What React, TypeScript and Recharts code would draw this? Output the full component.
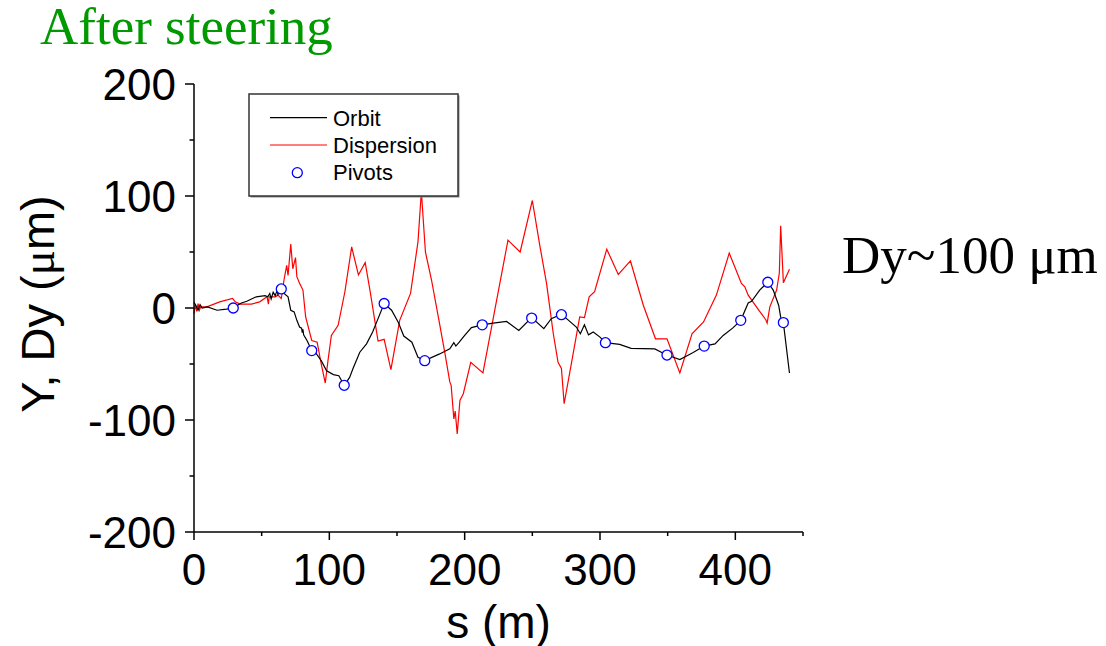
import { ComposedChart, Line, Scatter, XAxis, YAxis } from "recharts";

// s (m), value (µm)
const ORBIT: [number, number][] = [
  [0, 5], [1.5, 2], [3, -2], [4.5, 3], [6, 0], [10, 1], [17, -2], [24, -1], [29, 0],
  [35, 4.5], [39, 6], [46, 10], [52.5, 11], [54.5, 10], [56, 13], [57, 8], [58.5, 14],
  [60, 11], [61.5, 16], [62, 12], [64.5, 17], [66.5, 13], [69.5, 10], [71.5, -2],
  [74, -3.5], [76, -11], [78, -17], [79.5, -18], [80, -22], [80.5, -19], [81, -24],
  [83.5, -29], [87, -38], [90.5, -41], [94, -47], [98, -56], [103, -59.5], [107, -60.5],
  [111, -69], [115, -62], [117.5, -54], [122.5, -39.5], [127.5, -32], [132, -21.5],
  [136, -9.5], [140.5, 4], [146, -2], [151, -13], [155, -25], [161, -30.5],
  [165.5, -44], [170.5, -47], [181.5, -41], [189, -36.5], [192, -31], [193.5, -34],
  [196, -30.5], [200, -24.5], [205, -17.5], [213, -15], [221, -13.5], [231, -12],
  [240, -20], [249.5, -8.5], [258.5, -18.5], [264, -9.5], [271.5, -5.5], [282.5, -17],
  [285.5, -23], [288.5, -15], [291.5, -24], [295, -21.5], [300, -26], [304, -31],
  [314.5, -32.5], [323, -36], [340.5, -36.5], [346, -40], [349.5, -42], [359, -46],
  [368.5, -40], [377, -34], [385, -32], [391, -24.5], [398, -18], [404, -11],
  [409.5, 4.5], [412, 6], [418, 16], [424, 23], [428, 16], [432, 2.5], [433.5, -8],
  [435.5, -13], [440, -58],
];

const DISPERSION: [number, number][] = [
  [0, -5], [1, 3], [2, -3], [3, 4], [4, -2], [5, 1], [9.5, 1], [19, 5.5], [28.5, 8.5],
  [30.5, 5.5], [34, 3.5], [42.5, 3.5], [48.5, 5.5], [54, 10], [55, 3.5], [55.5, 10],
  [60, 10], [62, 11.5], [64.5, 8.5], [66.5, 25], [68.5, 38], [69.5, 29], [71.5, 57],
  [73, 35], [75, 45], [76, 28], [78, 22], [80.5, 16], [82.5, -8], [87, -29],
  [91, -30.5], [94, -50], [97, -67], [99, -47], [101.5, -24.5], [106.5, -15.5],
  [111.5, 14.5], [116.5, 54.5], [121.5, 29.5], [126.5, 40.5], [130, 16], [136, -29.5],
  [140.5, -28], [145.5, -55], [152, -11], [160, 13], [165.5, 59], [168, 104], [171, 50],
  [175.5, 25], [181, -11], [185.5, -41], [189, -66], [190, -69], [192, -99], [193, -92],
  [194.5, -112.5], [196.5, -82.5], [199, -76.5], [204.5, -48.5], [213.5, -58],
  [222, -3.5], [232, 60.5], [241, 50], [250, 96], [255.5, 56], [260.5, 22],
  [265.5, -23], [269, -48.5], [271.5, -54], [273.5, -85.5], [279, -48.5], [285, -8],
  [288.5, -8.5], [292, 10], [296, 14.5], [305, 52.5], [313.5, 30], [322.5, 42],
  [332, 2.5], [341, -27.5], [349.5, -27.5], [359, -58], [368, -23], [376.5, -12.5],
  [386, 11.5], [395.5, 49], [404.5, 22], [407, 19], [409.5, 11.5], [416.5, -0.5],
  [422.5, -10.5], [423.5, -13.5], [425.5, 1], [430.5, 16], [432.5, 31], [433.5, 73.5],
  [435.5, 22.5], [440, 34.5],
];

const PIVOTS: [number, number][] = [
  [29, 0], [64.5, 17], [87, -38], [111, -69], [140.5, 4], [170.5, -47], [213, -15],
  [249.5, -9], [271.5, -6], [304, -31], [349.5, -42], [377, -34], [404, -11],
  [424, 23], [435.5, -13],
];

const X_TICKS = [0, 50, 100, 150, 200, 250, 300, 350, 400, 450];
const Y_TICKS = [-200, -150, -100, -50, 0, 50, 100, 150, 200];

const SANS = "'Liberation Sans', Arial, sans-serif";
const SERIF = "'Liberation Serif', 'Times New Roman', serif";

const toRows = (pts: [number, number][]) => pts.map(([s, v]) => ({ s, v }));

function XTick({ x, y, payload }: any) {
  const major = payload.value % 100 === 0;
  return (
    <g>
      <line x1={x} x2={x} y1={y} y2={y + (major ? 8 : 4)} stroke="#000" strokeWidth={1.5} />
      {major && payload.value < 450 && (
        <text x={x} y={y + 53} textAnchor="middle" fontFamily={SANS} fontSize={44} fill="#000">
          {payload.value}
        </text>
      )}
    </g>
  );
}

function YTick({ x, y, payload }: any) {
  const major = payload.value % 100 === 0;
  return (
    <g>
      <line x1={x - (major ? 9 : 4.5)} x2={x} y1={y} y2={y} stroke="#000" strokeWidth={1.5} />
      {major && (
        <text x={x - 18} y={y + 16} textAnchor="end" fontFamily={SANS} fontSize={44} fill="#000">
          {payload.value}
        </text>
      )}
    </g>
  );
}

function Pivot({ cx, cy }: any) {
  return <circle cx={cx} cy={cy} r={5} fill="#fff" stroke="#0000ff" strokeWidth={1.3} />;
}

export default function App() {
  return (
    <div style={{ position: "relative", width: 1106, height: 646, background: "#fff" }}>
      <style>{"body{margin:0}"}</style>
      <ComposedChart width={1106} height={646} margin={{ top: 84, right: 303, bottom: 0, left: 0 }}>
        <XAxis
          type="number"
          dataKey="s"
          domain={[0, 450]}
          ticks={X_TICKS}
          interval={0}
          height={114}
          tickSize={0}
          tickMargin={0}
          tick={<XTick />}
          axisLine={{ stroke: "#000", strokeWidth: 1.5 }}
        />
        <YAxis
          type="number"
          dataKey="v"
          domain={[-200, 200]}
          ticks={Y_TICKS}
          interval={0}
          width={194}
          tickSize={0}
          tickMargin={0}
          tick={<YTick />}
          axisLine={{ stroke: "#000", strokeWidth: 1.5 }}
        />
        <Line
          data={toRows(DISPERSION)}
          dataKey="v"
          type="linear"
          stroke="#ff0000"
          strokeWidth={1.2}
          dot={false}
          isAnimationActive={false}
        />
        <Line
          data={toRows(ORBIT)}
          dataKey="v"
          type="linear"
          stroke="#000"
          strokeWidth={1.2}
          dot={false}
          isAnimationActive={false}
        />
        <Scatter data={toRows(PIVOTS)} dataKey="v" shape={<Pivot />} isAnimationActive={false} />
      </ComposedChart>

      <svg width={1106} height={646} style={{ position: "absolute", left: 0, top: 0, pointerEvents: "none" }}>
        <text x={40} y={43.5} fontFamily={SERIF} fontSize={53} fill="#009900">
          After steering
        </text>
        <text x={842} y={273} fontFamily={SERIF} fontSize={53} fill="#000">
          Dy~100 μm
        </text>
        <text x={498.5} y={638} textAnchor="middle" fontFamily={SANS} fontSize={46} fill="#000">
          s (m)
        </text>
        <text transform="translate(54,304) rotate(-90)" textAnchor="middle" fontFamily={SANS} fontSize={47} fill="#000">
          Y, Dy (<tspan fontFamily={SERIF}>μ</tspan>m)
        </text>

        <rect x={250.5} y={95.5} width={209} height={102} fill="#888" />
        <rect x={249} y={94} width={209} height={102} fill="#fff" stroke="#333" strokeWidth={1.5} />
        <line x1={270} x2={327} y1={117.7} y2={117.7} stroke="#000" strokeWidth={1.2} />
        <text x={333} y={125.7} fontFamily={SANS} fontSize={22} fill="#000">Orbit</text>
        <line x1={270} x2={327} y1={145} y2={145} stroke="#ff0000" strokeWidth={1.2} />
        <text x={333} y={153.3} fontFamily={SANS} fontSize={22} fill="#000">Dispersion</text>
        <circle cx={297.3} cy={172.7} r={5} fill="#fff" stroke="#0000ff" strokeWidth={1.3} />
        <text x={333} y={180} fontFamily={SANS} fontSize={22} fill="#000">Pivots</text>
      </svg>
    </div>
  );
}
